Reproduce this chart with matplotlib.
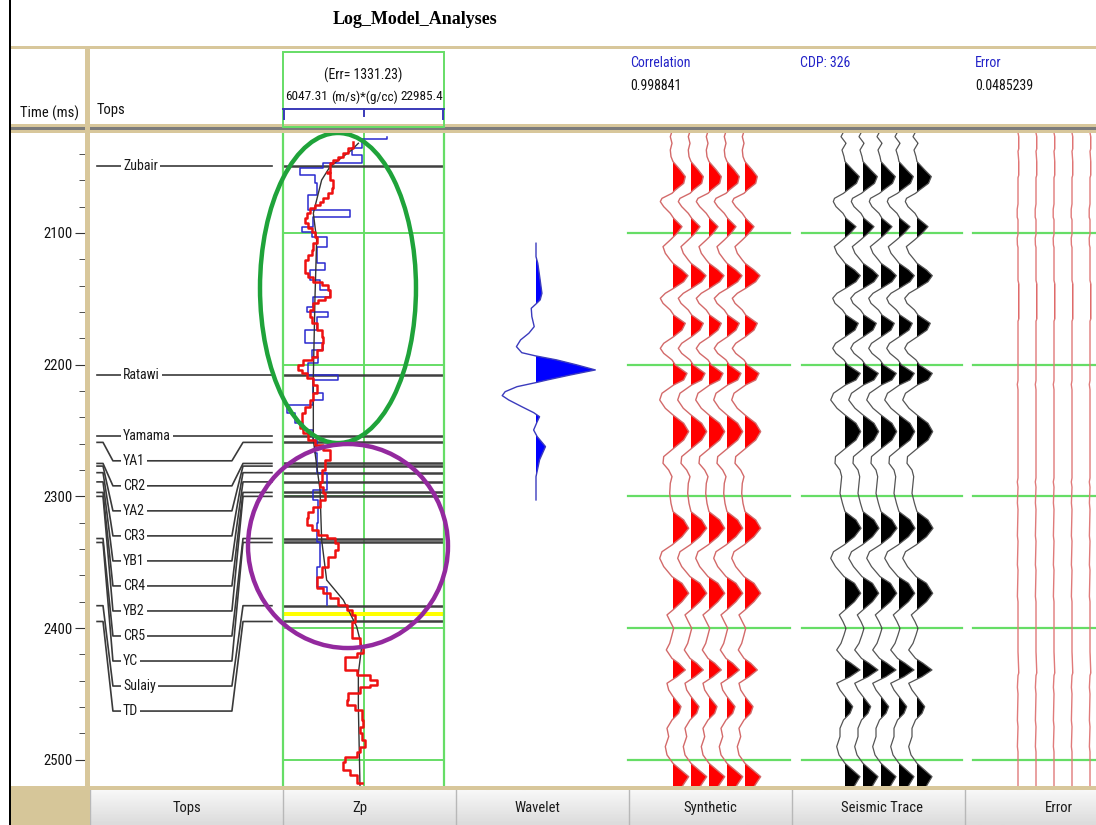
import matplotlib
matplotlib.use('Agg')
import matplotlib.pyplot as plt
from matplotlib.patches import Rectangle, Ellipse
from matplotlib.lines import Line2D
from matplotlib.ticker import MultipleLocator, FixedLocator
import numpy as np

plt.rcParams['font.family'] = ['Liberation Sans Narrow', 'Roboto Condensed', 'Open Sans Condensed',
                               'DejaVu Sans Condensed', 'Liberation Sans', 'DejaVu Sans']

# ---------------- data ----------------
time_ticks = [2100, 2200, 2300, 2400, 2500]

tops_names = ['Zubair', 'Ratawi', 'Yamama', 'YA1', 'CR2', 'YA2', 'CR3', 'YB1',
              'CR4', 'YB2', 'CR5', 'YC', 'Sulaiy', 'TD']
tops_time = [2049, 2208, 2254, 2259, 2275, 2277, 2282, 2289,
             2297, 2300, 2332, 2335, 2383, 2395]
target_zone = (2387.5, 2391.0)

zp_min, zp_max = 6047.31, 22985.4
zp_err = 1331.23
correlation = 0.998841
cdp = 326
error_value = 0.0485239

# Zp log (blue), step values: start time of each block and its value
log_t = [2027.5, 2028.5, 2035.7, 2040.8, 2047.1, 2050.9, 2056.0, 2062.3, 2071.1, 2082.5,
         2088.1, 2095.2, 2099.0, 2102.8, 2110.4, 2123.0, 2128.1, 2135.7, 2143.3, 2148.4,
         2156.0, 2159.8, 2163.6, 2173.7, 2183.8, 2188.8, 2193.9, 2198.9, 2207.8, 2211.6,
         2221.7, 2226.8, 2230.6, 2236.9, 2244.5, 2249.6, 2257.2, 2262.0, 2267.3, 2282.5,
         2295.1, 2302.7, 2320.4, 2335.0, 2353.4, 2368.6, 2382.5]
log_zp = [16955, 14326, 13274, 14326, 10289, 7836, 9414, 9589, 8712, 13096,
          9238, 8011, 9063, 10640, 9589, 10465, 8888, 9940, 10991, 9238,
          8537, 10816, 9589, 8362, 10289, 9063, 9765, 8712, 11865, 9238,
          10289, 9238, 6436, 7309, 8186, 9238, 9589, 9414, 9589, 10640,
          9238, 9765, 9589, 9940, 9589, 10640, 10640]

# initial model (black)
model_t = [2031.9, 2037.0, 2049.7, 2059.8, 2085.0, 2105.3, 2148.4, 2209.1, 2257.2,
           2295.1, 2333.1, 2363.5, 2378.7, 2398.9, 2414.1, 2434.3, 2459.7, 2520.4]
model_zp = [13975, 13274, 10991, 10114, 9238, 9589, 9414, 9238, 9238,
            9940, 10114, 10640, 12394, 13800, 14326, 13975, 13975, 14150]

# inverted impedance (red), step values
inv_t = [2030.7, 2035.7, 2039.5, 2042.0, 2044.6, 2047.1, 2053.4, 2054.7, 2059.8, 2066.1,
         2069.9, 2073.7, 2076.2, 2078.7, 2081.3, 2085.1, 2088.9, 2092.7, 2096.5, 2099.0,
         2102.8, 2107.9, 2112.9, 2116.7, 2120.5, 2125.6, 2130.6, 2133.2, 2137.0, 2139.5,
         2143.3, 2148.3, 2150.9, 2153.4, 2158.5, 2163.5, 2168.6, 2173.7, 2178.7, 2183.8,
         2188.8, 2193.9, 2196.4, 2200.2, 2204.0, 2206.6, 2210.4, 2215.4, 2221.7, 2226.8,
         2231.9, 2236.9, 2243.3, 2248.3, 2252.1, 2257.2, 2261.0, 2264.8, 2272.4, 2280.0,
         2288.8, 2292.6, 2297.7, 2302.8, 2307.8, 2311.6, 2316.7, 2321.7, 2325.5, 2329.3,
         2331.9, 2335.7, 2340.7, 2345.8, 2353.4, 2361.0, 2366.0, 2369.8, 2373.6, 2377.4,
         2382.5, 2386.3, 2390.1, 2395.1, 2402.7, 2407.8, 2414.1, 2419.2, 2421.7, 2429.3,
         2431.8, 2435.6, 2439.4, 2443.2, 2444.5, 2449.6, 2454.6, 2458.4, 2462.2, 2469.8,
         2474.9, 2479.9, 2485.0, 2490.0, 2493.8, 2497.6, 2501.4, 2507.8, 2511.6, 2517.9]
inv_zp = [13377, 12921, 12395, 11869, 11343, 10992, 10641, 10992, 11343, 11168,
          10817, 10291, 9940, 9414, 8888, 8537, 8362, 8713, 9063, 9414,
          9589, 9239, 9063, 8713, 8362, 8362, 8713, 9239, 10115, 10817,
          10992, 10466, 9765, 9239, 8888, 9063, 9589, 10115, 10291, 10115,
          9589, 9063, 8187, 7661, 8011, 8537, 9239, 9589, 9239, 8888,
          8362, 8011, 7836, 8187, 8713, 9414, 10291, 10992, 10466, 10115,
          9940, 10291, 10466, 9940, 9239, 8713, 8537, 9063, 9765, 10641,
          11518, 11869, 11518, 10817, 10115, 9589, 9589, 10291, 10992, 11869,
          12746, 13272, 13622, 13272, 13272, 14149, 14499, 13798, 12570, 12570,
          13798, 15201, 15902, 15201, 14149, 12921, 12746, 13622, 14324, 14499,
          14149, 14324, 14675, 14149, 13798, 12570, 12395, 13096, 13798, 14324]

# wavelet (lag in ms, normalised amplitude)
wav_lag = [-96.2, -86.0, -81.0, -68.3, -58.2, -53.2, -50.1, -46.8, -40.5, -32.9,
           -27.9, -22.8, -17.7, -13.1, -10.6, -7.6, -3.8, 0.0, 3.8, 7.6,
           9.6, 12.7, 16.5, 19.5, 22.8, 27.9, 32.4, 35.5, 39.3, 45.6,
           50.6, 58.2, 68.3, 81.0, 98.7]
wav_amp = [0.0, 0.0, 0.03, 0.07, 0.10, 0.07, 0.0, -0.08, -0.07, -0.03,
           -0.12, -0.26, -0.33, -0.24, 0.0, 0.35, 0.69, 1.0, 0.58, 0.19,
           0.0, -0.32, -0.52, -0.57, -0.46, -0.24, -0.04, 0.06, 0.02, -0.04,
           0.02, 0.16, 0.06, 0.0, 0.0]

# synthetic and seismic traces (same time samples)
trace_t = [2024.0, 2026.9, 2031.9, 2037.0, 2042.0, 2045.8, 2052.2, 2057.2, 2062.3, 2067.4,
           2069.9, 2073.7, 2076.2, 2080.0, 2085.1, 2088.9, 2095.2, 2100.3, 2105.3, 2110.4,
           2115.4, 2120.5, 2123.0, 2128.1, 2132.4, 2137.0, 2142.0, 2145.8, 2149.6, 2153.4,
           2158.5, 2162.3, 2168.6, 2173.7, 2178.7, 2183.8, 2187.6, 2191.4, 2196.4, 2200.2,
           2206.6, 2211.6, 2215.4, 2221.7, 2226.8, 2233.1, 2238.2, 2244.5, 2250.8, 2257.2,
           2263.5, 2269.8, 2274.9, 2280.0, 2285.0, 2290.1, 2297.7, 2305.3, 2311.6, 2317.9,
           2324.2, 2330.6, 2336.9, 2342.0, 2347.0, 2353.3, 2360.9, 2366.0, 2373.6, 2379.9,
           2386.2, 2390.0, 2395.1, 2400.2, 2405.2, 2411.6, 2416.6, 2423.0, 2426.7, 2431.8,
           2436.9, 2441.9, 2447.0, 2452.0, 2459.6, 2464.7, 2469.8, 2476.1, 2482.4, 2490.0,
           2496.3, 2502.7, 2512.8, 2520.4]
synth_amp = [-1.5, -2.7, -1.0, -2.7, -2.0, 0.0, 7.3, 12.3, 10.7, 2.3,
             -1.0, -11.0, -12.7, -9.3, -2.7, 0.7, 9.0, 4.0, -2.7, -10.0,
             -7.7, -2.7, 0.0, 9.0, 15.0, 10.7, 0.7, -7.7, -12.7, -10.0,
             -2.7, 0.7, 12.3, 9.0, 0.7, -9.3, -12.7, -9.3, -1.0, 2.3,
             14.0, 10.7, 0.7, -11.0, -13.3, -7.7, 0.0, 10.7, 15.7, 10.7,
             0.7, -9.3, -10.0, -4.3, -1.0, -2.7, -3.3, -2.0, 0.0, 10.7,
             15.7, 9.0, -1.0, -11.0, -13.3, -9.3, -1.0, 9.0, 15.7, 9.0,
             0.0, -6.0, -2.7, 0.7, -1.0, -3.3, -6.7, -1.0, 5.7, 12.3,
             4.0, -6.0, -4.3, 0.0, 8.0, 5.7, -1.0, -6.0, -4.3, -7.7,
             -6.0, 0.0, 15.7, 9.0]
seis_amp = [-2.0, -4.0, 1.0, -3.0, -1.0, 0.0, 7.8, 14.3, 11.5, 2.5,
            -1.5, -10.5, -11.7, -9.0, -2.0, 1.0, 11.0, 5.0, -2.5, -10.7,
            -8.0, -2.5, 0.0, 9.5, 15.3, 11.0, 0.5, -8.0, -12.3, -10.0,
            -2.5, 1.0, 13.3, 10.0, 0.5, -9.5, -12.3, -9.0, -1.0, 2.5,
            15.3, 11.0, 0.5, -11.5, -14.3, -8.0, 0.0, 11.0, 15.7, 11.0,
            0.5, -9.5, -10.0, -5.0, -3.3, -4.0, -5.0, -2.5, 0.0, 11.0,
            16.0, 9.5, -1.0, -11.5, -14.3, -9.5, -1.0, 9.5, 15.7, 9.5,
            0.0, -5.7, -2.0, 1.0, -1.0, -4.0, -8.3, -1.5, 6.0, 15.0,
            5.0, -8.3, -5.0, 0.0, 7.7, 5.0, -1.5, -5.0, -5.0, -8.3,
            -6.0, 0.0, 15.0, 9.0]

# error trace
err_t = [2024, 2027, 2036, 2038, 2046, 2056, 2058, 2078, 2082, 2088, 2090, 2101, 2104,
         2109, 2111, 2136, 2139, 2165, 2167, 2212, 2215, 2219, 2286, 2289, 2293, 2305,
         2310, 2330, 2334, 2352, 2356, 2376, 2380, 2418, 2434, 2436, 2445, 2450, 2470,
         2475, 2490, 2494, 2520]
err_amp = [0, 0.8, 0.8, 0, 0.8, 0.8, 0, 0, -0.8, -0.8, 0, 0, -0.8,
           -0.6, 0, 0, 0.9, 0.9, 0, 0, -0.7, 0, 0, -0.7, 0, -0.6,
           0, -0.6, 0, -0.6, 0, -0.6, 0, 0, 0.8, 0, -0.6, 0, -0.6,
           0, -0.6, 0, 0]

tab_labels = ['Tops', 'Zp', 'Wavelet', 'Synthetic', 'Seismic Trace', 'Error']

# ---------------- layout helpers (pixels) ----------------
W, H = 1096, 825
T_TOP, T_BOT = 2024.1, 2519.9
Y0, Y1 = 133, 786
TAN = '#d8c79b'
GREEN = '#66dd66'
BLUE_TXT = '#2323c8'

fig = plt.figure(figsize=(W / 100, H / 100), dpi=100)
fig.patch.set_facecolor('white')


def box(x0, y0, x1, y1):
    return [x0 / W, 1 - y1 / H, (x1 - x0) / W, (y1 - y0) / H]


def frect(x0, y0, x1, y1, fc='none', ec='none', lw=0, z=1):
    fig.add_artist(Rectangle((x0 / W, 1 - y1 / H), (x1 - x0) / W, (y1 - y0) / H,
                             transform=fig.transFigure, facecolor=fc,
                             edgecolor=ec, linewidth=lw, zorder=z))


def fline(xs, ys, color, lw):
    fig.add_artist(Line2D([x / W for x in xs], [1 - y / H for y in ys],
                          transform=fig.transFigure, color=color, linewidth=lw))


def ftext(x, y, s, **kw):
    fig.text(x / W, 1 - y / H, s, **kw)


def data_axes(x0, x1):
    ax = fig.add_axes(box(x0, Y0, x1, Y1))
    ax.set_facecolor('none')
    ax.set_ylim(T_BOT, T_TOP)
    for s in ax.spines.values():
        s.set_visible(False)
    ax.set_xticks([])
    ax.set_yticks([])
    return ax


# ---------------- Tops panel (with time axis) ----------------
ax_tops = data_axes(85, 283)
ax_tops.set_xlim(0, 1)
ax_tops.yaxis.set_major_locator(FixedLocator(time_ticks))
ax_tops.yaxis.set_minor_locator(MultipleLocator(20))
ax_tops.tick_params(axis='y', which='major', length=7, direction='out', pad=2,
                    labelsize=10.5, color='#333333', labelcolor='#111111')
ax_tops.tick_params(axis='y', which='minor', length=4, direction='out', color='#333333')

ytr = ax_tops.get_yaxis_transform()
row = 0
for name, t in zip(tops_names, tops_time):
    if name in ('Zubair', 'Ratawi'):
        lab_t = t
    else:
        lab_t = tops_time[2] + row * 19.0
        row += 1
    ax_tops.plot([0.061, 0.091, 0.141, 0.742, 0.798, 0.944],
                 [t, t, lab_t, lab_t, t, t], transform=ytr,
                 color='#3a3a3a', lw=1.2, zorder=2)
    ax_tops.text(0.192, lab_t, name, transform=ytr, fontsize=10, color='#1a1a1a',
                 va='center', ha='left', zorder=3,
                 bbox=dict(facecolor='white', edgecolor='none', pad=1.5))

# ---------------- Zp panel ----------------
ax_zp = data_axes(283, 444)
ax_zp.set_xlim(zp_min, zp_max)
for side in ('left', 'right'):
    ax_zp.spines[side].set_visible(True)
    ax_zp.spines[side].set_color(GREEN)
    ax_zp.spines[side].set_linewidth(1.6)
for t in time_ticks:
    ax_zp.axhline(t, color=GREEN, lw=1.4, zorder=1)
ax_zp.axvline((zp_min + zp_max) / 2, color=GREEN, lw=1.4, zorder=1)
for t in tops_time:
    ax_zp.axhline(t, color='#404040', lw=1.8, zorder=2)
ax_zp.axhspan(target_zone[0], target_zone[1], color='#ffff00', lw=0, zorder=2)
ax_zp.plot(log_zp, log_t, drawstyle='steps-pre', color='#2a2ad0', lw=1.1, zorder=3)
ax_zp.plot(model_zp, model_t, color='#333333', lw=1.0, zorder=4)
ax_zp.plot(inv_zp, inv_t, drawstyle='steps-pre', color='#ee1111', lw=1.8, zorder=5)
ax_zp.add_patch(Ellipse((11833, 2141.8), 16411, 235.4, fill=False,
                        edgecolor='#1fa33a', lw=3.2, clip_on=False, zorder=6))
ax_zp.add_patch(Ellipse((12885, 2337.7), 21040, 154.9, fill=False,
                        edgecolor='#93299e', lw=3.2, clip_on=False, zorder=6))

# ---------------- Wavelet panel ----------------
ax_wav = data_axes(456, 620)
ax_wav.set_xlim(-80 / 59.3, 84 / 59.3)
wav_center = 2204.0
wt = wav_center + np.array(wav_lag)
wa = np.array(wav_amp)
ax_wav.plot(wa, wt, color='#3b3bbd', lw=1.0)
ax_wav.fill_betweenx(wt, 0, wa, where=wa > 0, interpolate=True, color='#0000ff', lw=0)


# ---------------- trace panels ----------------
def trace_panel(x0, x1, base, amp, t, line_c, fill_c, lw, green_from, green_to):
    ax = data_axes(x0, x1)
    ax.set_xlim((x0 - base) / 18, (x1 - base) / 18)
    for g in time_ticks:
        ax.axhline(g, xmin=green_from, xmax=green_to, color=GREEN, lw=1.6, zorder=1)
    a = np.array(amp) / 18.0
    tt = np.array(t)
    for k in range(5):
        ax.fill_betweenx(tt, k, k + a, where=a > 0, interpolate=True,
                         color=fill_c, lw=0, zorder=2)
        ax.plot(k + a, tt, color=line_c, lw=lw, zorder=3)
    return ax


trace_panel(620, 795, 673, synth_amp, trace_t, '#d36a6a', '#ff0000', 1.0, 0.046, 0.971)
trace_panel(795, 965, 845, seis_amp, trace_t, '#555555', '#000000', 0.9, 0.041, 0.982)
trace_panel(965, 1096, 1018, err_amp, err_t, '#e07a7a', '#e01818', 1.0, 0.061, 1.0)

# ---------------- window chrome ----------------
frect(9, 0, 11, H, fc='black', z=3)
frect(11, 46, W, 49, fc=TAN, z=2)
frect(11, 124, W, 133, fc=TAN, z=2)
frect(11, 127, W, 130, fc='#7b7b7b', z=2)
frect(85, 46, 90, 790, fc=TAN, z=2)
frect(11, 786, W, 790, fc=TAN, z=2)
frect(11, 790, 90, H, fc='#d6c699', z=2)

# tab bar
ax_tab = fig.add_axes(box(90, 790, W, H))
grad = np.linspace(0.97, 0.86, 20).reshape(-1, 1)
ax_tab.imshow(grad, aspect='auto', cmap='gray', vmin=0, vmax=1,
              extent=(90, W, H, 790))
ax_tab.set_xlim(90, W)
ax_tab.set_ylim(H, 790)
ax_tab.axis('off')
for xs in [90, 283, 456, 629, 792, 965]:
    ax_tab.axvline(xs, color='#b8b8b8', lw=1)
for xc, lab in zip([187, 360, 537, 710, 882, 1059], tab_labels):
    ax_tab.text(xc, 808, lab, ha='center', va='center', fontsize=10.5, color='#1a1a1a')

# header
ftext(415, 20, 'Log_Model_Analyses', ha='center', va='center', fontsize=13,
      fontweight='bold', family=['Liberation Serif', 'DejaVu Serif'])
ftext(20, 113, 'Time (ms)', ha='left', va='center', fontsize=10.5, color='#111111')
ftext(97, 110, 'Tops', ha='left', va='center', fontsize=10.5, color='#111111')
frect(283, 52, 444, 127, ec=GREEN, lw=1.4, z=2)
ftext(363, 75, f'(Err= {zp_err})', ha='center', va='center', fontsize=10, color='#111111')
ftext(285, 97, f'{zp_min}', ha='left', va='center', fontsize=9.5, color='#111111')
ftext(365, 97, '(m/s)*(g/cc)', ha='center', va='center', fontsize=9.5, color='#111111')
ftext(443, 97, f'{zp_max}', ha='right', va='center', fontsize=9.5, color='#111111')
fline([283, 444], [109, 109], '#3a3ab8', 1.4)
fline([284, 284], [109, 119], '#3a3ab8', 1.4)
fline([364, 364], [109, 116], '#3a3ab8', 1.4)
fline([443, 443], [109, 119], '#3a3ab8', 1.4)

ftext(630, 63, 'Correlation', ha='left', va='center', fontsize=10, color=BLUE_TXT)
ftext(630, 86, f'{correlation}', ha='left', va='center', fontsize=10, color='#111111')
ftext(800, 63, f'CDP: {cdp}', ha='left', va='center', fontsize=10, color=BLUE_TXT)
ftext(975, 63, 'Error', ha='left', va='center', fontsize=10, color=BLUE_TXT)
ftext(975, 86, f'{error_value}', ha='left', va='center', fontsize=10, color='#111111')

fig.savefig('out.png', dpi=100)
